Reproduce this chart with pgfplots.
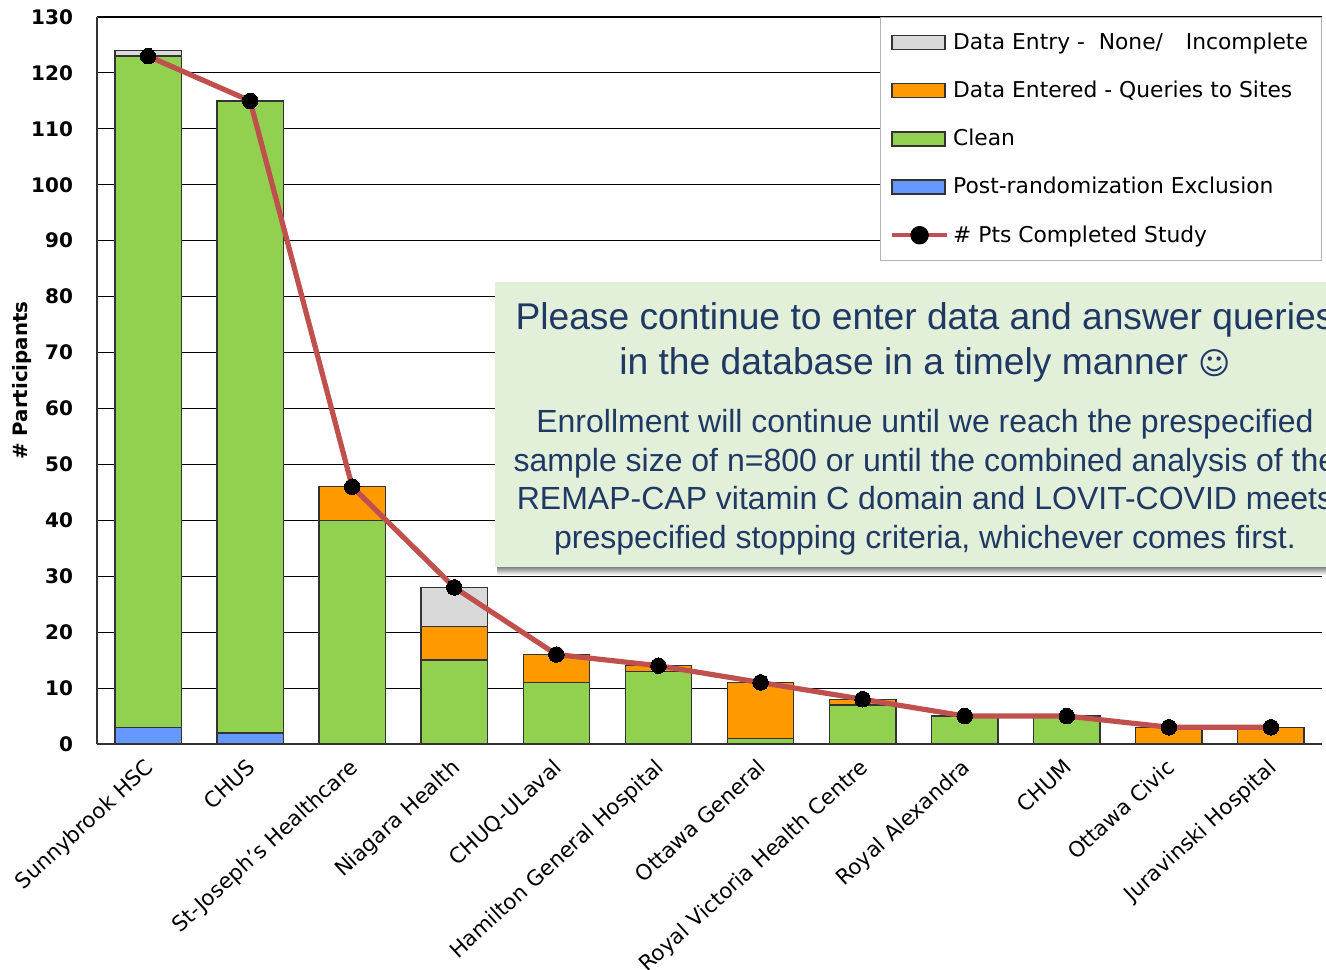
\documentclass[border=0pt]{standalone}
\usepackage{pgfplots}
\usepackage{fontspec}
\pgfplotsset{compat=1.18}
\setmainfont{DejaVu Sans}
\newfontfamily\callout{Liberation Sans}
\newfontfamily\symb{DejaVu Sans}
\definecolor{cgrey}{HTML}{D9D9D9}
\definecolor{corange}{HTML}{FF9900}
\definecolor{cgreen}{HTML}{92D050}
\definecolor{cblue}{HTML}{6699FF}
\definecolor{cline}{HTML}{C0504D}
\definecolor{cbox}{HTML}{E2EFD9}
\definecolor{ctext}{HTML}{1F3864}
\definecolor{cedge}{HTML}{333333}
\begin{document}
\begin{tikzpicture}
\useasboundingbox (0,0) rectangle (663pt,484.5pt);
\pgfplotsset{common/.style={
  at={(48.5pt,112.5pt)}, anchor=south west, scale only axis,
  width=612.5pt, height=363.5pt,
  xmin=-0.5, xmax=11.5, ymin=0, ymax=130}}
\begin{axis}[common,
  ybar stacked, bar width=0.65,
  axis x line=bottom, axis y line=left,
  axis line style={-,draw=cedge,line width=0.7pt},
  ymajorgrids, grid style={black,line width=0.55pt},
  major tick length=0pt,
  ytick={0,10,...,130},
  /pgf/number format/assume math mode=true,
  yticklabel style={font=\bfseries\fontsize{10}{11}\selectfont,xshift=-8.5pt},
  ylabel={\bfseries\# Participants},
  ylabel style={font=\bfseries\fontsize{9.9}{12}\selectfont,yshift=-7pt},
  xtick={0,...,11},
  xticklabels={Sunnybrook HSC,CHUS,St-Joseph\symbol{39}s Healthcare,Niagara Health,CHUQ-ULaval,Hamilton General Hospital,Ottawa General,Royal Victoria Health Centre,Royal Alexandra,CHUM,Ottawa Civic,Juravinski Hospital},
  xticklabel style={font=\fontsize{10.65}{12}\selectfont,rotate=42.5,anchor=north east,inner sep=1pt,xshift=-5pt,yshift=-2.5pt},
  every axis plot/.append style={draw=cedge,line width=0.7pt},
]
\addplot[fill=cblue,draw=cedge] coordinates {(0,3)(1,2)(2,0)(3,0)(4,0)(5,0)(6,0)(7,0)(8,0)(9,0)(10,0)(11,0)};
\addplot[fill=cgreen,draw=cedge] coordinates {(0,120)(1,113)(2,40)(3,15)(4,11)(5,13)(6,1)(7,7)(8,5)(9,5)(10,0)(11,0)};
\addplot[fill=corange,draw=cedge] coordinates {(0,0)(1,0)(2,6)(3,6)(4,5)(5,1)(6,10)(7,1)(8,0)(9,0)(10,3)(11,3)};
\addplot[fill=cgrey,draw=cedge] coordinates {(0,1)(1,0)(2,0)(3,7)(4,0)(5,0)(6,0)(7,0)(8,0)(9,0)(10,0)(11,0)};
\end{axis}
\begin{axis}[common, axis lines=none, clip=false,
  legend style={at={(1,1)},anchor=north east,draw=black!30,line width=0.6pt,fill=white,
    font=\fontsize{10.9}{12}\selectfont,row sep=10.3pt,inner xsep=4.75pt,inner ysep=5.6pt,
    /tikz/every even column/.append style={column sep=2pt}},
  legend cell align=left,
]
\addlegendimage{legend image code/.code={\draw[fill=cgrey,draw=cedge,line width=0.7pt] (0,-3.5pt) rectangle (26.5pt,3.5pt);}}
\addlegendentry{Data Entry -\ \ None/\ \ \ \hspace{1pt}Incomplete}
\addlegendimage{legend image code/.code={\draw[fill=corange,draw=cedge,line width=0.7pt] (0,-3.5pt) rectangle (26.5pt,3.5pt);}}
\addlegendentry{Data Entered - Queries to Sites}
\addlegendimage{legend image code/.code={\draw[fill=cgreen,draw=cedge,line width=0.7pt] (0,-3.5pt) rectangle (26.5pt,3.5pt);}}
\addlegendentry{Clean}
\addlegendimage{legend image code/.code={\draw[fill=cblue,draw=cedge,line width=0.7pt] (0,-3.5pt) rectangle (26.5pt,3.5pt);}}
\addlegendentry{Post-randomization Exclusion}
\addplot[cline,line width=2.6pt,mark=*,mark size=3.9pt,mark options={fill=black,draw=black,line width=0pt},
  legend image code/.code={\draw[cline,line width=2.2pt] (0,0) -- (27.5pt,0); \fill[black] (13.8pt,0) circle (3.3pt);}]
 coordinates {(0,123)(1,115)(2,46)(3,28)(4,16)(5,14)(6,11)(7,8)(8,5)(9,5)(10,3)(11,3)};
\addlegendentry{\# Pts Completed Study}
\end{axis}
\begin{scope}[shift={(0,484.5pt)},x=0.5pt,y=-0.5pt]
\shade[top color=black!55,bottom color=white] (497,566) rectangle (1326,575);
\fill[cbox] (495,282) rectangle (1326,567);
\begin{scope}[every node/.style={anchor=base,text=ctext,inner sep=0pt}]
\node[font=\callout\fontsize{18.6}{22}\selectfont] at (925,330) {Please continue to enter data and answer queries};
\node[font=\callout\fontsize{18.6}{22}\selectfont] at (925,375) {in the database in a timely manner {\symb\fontsize{15.5}{20}\selectfont ☺}};
\node[font=\callout\fontsize{16}{20}\selectfont] at (925,433) {Enrollment will continue until we reach the prespecified};
\node[font=\callout\fontsize{16}{20}\selectfont] at (925,472) {sample size of n=800 or until the combined analysis of the};
\node[font=\callout\fontsize{16}{20}\selectfont] at (925,510) {REMAP-CAP vitamin C domain and LOVIT-COVID meets};
\node[font=\callout\fontsize{16}{20}\selectfont] at (925,549) {prespecified stopping criteria, whichever comes first.};
\end{scope}
\end{scope}
\end{tikzpicture}
\end{document}
